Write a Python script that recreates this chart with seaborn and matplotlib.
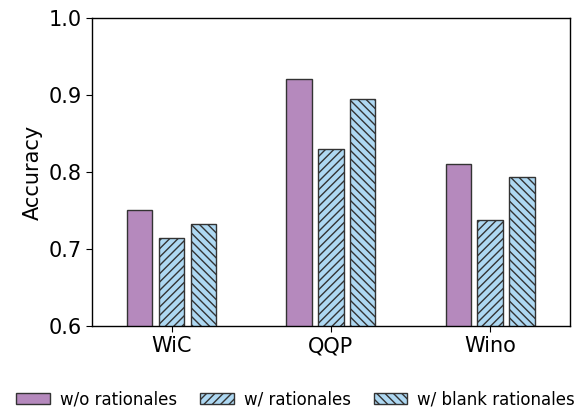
import matplotlib
matplotlib.use("Agg")
import matplotlib.pyplot as plt
import seaborn as sns
import pandas as pd

categories = ["WiC", "QQP", "Wino"]
series = ["w/o rationales", "w/ rationales", "w/ blank rationales"]
wo_rationales = [0.750, 0.921, 0.810]
w_rationales = [0.714, 0.830, 0.738]
w_blank_rationales = [0.732, 0.895, 0.793]

rows = []
for name, vals in zip(series, [wo_rationales, w_rationales, w_blank_rationales]):
    for c, v in zip(categories, vals):
        rows.append({"Task": c, "Setting": name, "Accuracy": v})
df = pd.DataFrame(rows)

sns.set_style("white")
plt.rcParams["font.family"] = ["DejaVu Sans"]
plt.rcParams["text.color"] = "black"
plt.rcParams["axes.labelcolor"] = "black"
plt.rcParams["xtick.color"] = "black"
plt.rcParams["ytick.color"] = "black"
plt.rcParams["hatch.linewidth"] = 1.0
fig = plt.figure(figsize=(5.82, 4.09), dpi=100)
ax = fig.add_axes([0.158, 0.203, 0.821, 0.753])

palette = ["#b589bd", "#aed8f2", "#aed8f2"]
sns.barplot(data=df, x="Task", y="Accuracy", hue="Setting", palette=palette,
            saturation=1, width=0.6, gap=0.2, edgecolor="#333333", linewidth=1.0,
            legend=False, ax=ax)

hatches = ["", "////", "\\\\\\\\"]
for cont, h, lab in zip(ax.containers, hatches, series):
    cont.set_label(lab)
    for p in cont.patches:
        p.set_hatch(h)
        p.set_edgecolor("#333333")

ax.set_ylim(0.6, 1.0)
ax.set_xlim(-0.5, 2.5)
ax.set_yticks([0.6, 0.7, 0.8, 0.9, 1.0])
ax.set_xlabel("")
ax.set_ylabel("Accuracy", fontsize=15)
ax.tick_params(axis="both", labelsize=15, length=4, color="black", bottom=True, left=True)
for s in ax.spines.values():
    s.set_color("black")
    s.set_linewidth(1.0)

fig.legend(handles=ax.containers, labels=series, loc="lower center",
           bbox_to_anchor=(0.508, -0.035), ncol=3, frameon=False, fontsize=12,
           handlelength=2.0, columnspacing=1.4, handletextpad=0.6)

fig.savefig("out.png", dpi=100)
